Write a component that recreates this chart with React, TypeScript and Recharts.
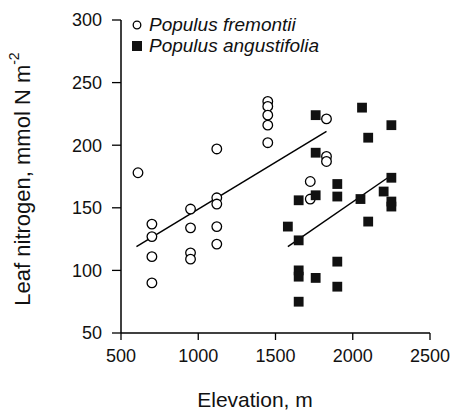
import React from 'react';
import { ScatterChart, Scatter, XAxis, YAxis, ReferenceLine, Legend, Label } from 'recharts';

// elevation (m) and leaf nitrogen (mmol N m-2)
const fremontiiElevation = [610, 700, 700, 700, 700, 950, 950, 950, 950, 1120, 1120, 1120, 1120, 1120, 1450, 1450, 1450, 1450, 1450, 1830, 1830, 1830, 1725, 1725];
const fremontiiNitrogen = [178, 137, 127, 111, 90, 149, 134, 114, 109, 197, 158, 153, 135, 121, 235, 231, 224, 216, 202, 221, 191, 187, 171, 157];

const angustifoliaElevation = [1580, 1650, 1650, 1650, 1650, 1650, 1760, 1760, 1760, 1760, 1900, 1900, 1900, 1900, 2060, 2100, 2050, 2100, 2200, 2250, 2250, 2250, 2250];
const angustifoliaNitrogen = [135, 156, 124, 100, 95, 75, 224, 194, 160, 94, 169, 159, 107, 87, 230, 206, 157, 139, 163, 216, 174, 155, 151];

// regression line end points
const fremontiiFitX = [600, 1830];
const fremontiiFitY = [119, 211];
const angustifoliaFitX = [1580, 2250];
const angustifoliaFitY = [119, 176];

const xTicks = [500, 1000, 1500, 2000, 2500];
const yTicks = [50, 100, 150, 200, 250, 300];

const FONT = '"Liberation Sans", Arial, Helvetica, sans-serif';

const toPoints = (xs: number[], ys: number[]) => xs.map((x, i) => ({ x, y: ys[i] }));

const fremontii = toPoints(fremontiiElevation, fremontiiNitrogen);
const angustifolia = toPoints(angustifoliaElevation, angustifoliaNitrogen);

const OpenCircle = (props: any) => (
  <circle cx={props.cx} cy={props.cy} r={4.8} fill="#fff" stroke="#000" strokeWidth={1.3} />
);

const FilledSquare = (props: any) => (
  <rect x={props.cx - 4.9} y={props.cy - 4.9} width={9.8} height={9.8} fill="#111" />
);

const renderLegend = () => (
  <div style={{ fontFamily: FONT, fontSize: 19, fontStyle: 'italic', color: '#111', lineHeight: '21px' }}>
    <div style={{ display: 'flex', alignItems: 'center' }}>
      <svg width={14} height={14} style={{ marginRight: 5 }}>
        <circle cx={7} cy={7} r={3.8} fill="#fff" stroke="#000" strokeWidth={1.3} />
      </svg>
      <span>Populus fremontii</span>
    </div>
    <div style={{ display: 'flex', alignItems: 'center' }}>
      <svg width={14} height={14} style={{ marginRight: 5 }}>
        <rect x={2} y={2} width={10} height={10} fill="#111" />
      </svg>
      <span>Populus angustifolia</span>
    </div>
  </div>
);

const YTitle = () => (
  <text
    x={22}
    y={179}
    transform="rotate(-90 22 179)"
    textAnchor="middle"
    dominantBaseline="central"
    fontFamily={FONT}
    fontSize={22}
    fill="#111"
  >
    Leaf nitrogen, mmol N m
    <tspan dy={-8} fontSize={14}>-2</tspan>
  </text>
);

const XTitle = () => (
  <text x={255} y={407} textAnchor="middle" fontFamily={FONT} fontSize={21} fill="#111">
    Elevation, m
  </text>
);

export default function App() {
  return (
    <div style={{ position: 'absolute', left: 0, top: 0, background: '#fff' }}>
      <ScatterChart width={450} height={413} margin={{ top: 20, right: 20, bottom: 0, left: 0 }}>
        <XAxis
          type="number"
          dataKey="x"
          domain={[500, 2500]}
          ticks={xTicks}
          height={80}
          tickSize={7}
          tickMargin={9}
          axisLine={{ stroke: '#000', strokeWidth: 1.5 }}
          tickLine={{ stroke: '#000', strokeWidth: 1.3 }}
          tick={{ fill: '#111', fontSize: 18, fontFamily: FONT }}
          allowDataOverflow
        >
          <Label content={XTitle} />
        </XAxis>
        <YAxis
          type="number"
          dataKey="y"
          domain={[50, 300]}
          ticks={yTicks}
          width={121}
          tickSize={9}
          tickMargin={10}
          axisLine={{ stroke: '#000', strokeWidth: 1.5 }}
          tickLine={{ stroke: '#000', strokeWidth: 1.3 }}
          tick={{ fill: '#111', fontSize: 18, fontFamily: FONT }}
          allowDataOverflow
        >
          <Label content={YTitle} />
        </YAxis>
        <Legend
          content={renderLegend}
          layout="vertical"
          align="center"
          verticalAlign="middle"
          wrapperStyle={{ left: 130, top: 14, width: 'auto' }}
        />
        <ReferenceLine
          segment={toPoints(fremontiiFitX, fremontiiFitY)}
          stroke="#000"
          strokeWidth={1.5}
          ifOverflow="visible"
        />
        <ReferenceLine
          segment={toPoints(angustifoliaFitX, angustifoliaFitY)}
          stroke="#000"
          strokeWidth={1.5}
          ifOverflow="visible"
        />
        <Scatter name="Populus fremontii" data={fremontii} shape={OpenCircle} isAnimationActive={false} />
        <Scatter name="Populus angustifolia" data={angustifolia} shape={FilledSquare} isAnimationActive={false} />
      </ScatterChart>
    </div>
  );
}
